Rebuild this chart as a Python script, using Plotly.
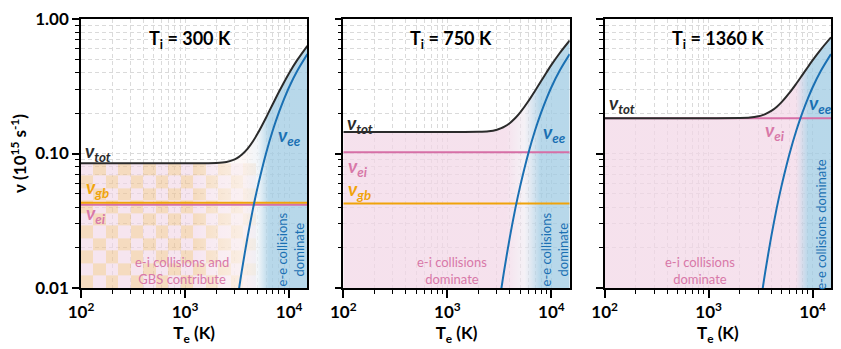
import numpy as np
import plotly.graph_objects as go
from plotly.subplots import make_subplots

# ---------------- data ----------------
TE = [100, 1000, 2000, 2500, 3000, 3300, 3500, 4000, 4500, 5000, 6000,
      7000, 8000, 9000, 10000, 12000, 15000]
NU_EE = [None, None, 0.00035, 0.0019, 0.0059, 0.0098, 0.0132, 0.0242, 0.0389,
         0.0567, 0.100, 0.150, 0.203, 0.257, 0.311, 0.412, 0.548]
NU_TOT_300 = [0.0845, 0.0845, 0.0849, 0.0864, 0.0904, 0.0943, 0.0977, 0.1087,
              0.1234, 0.1412, 0.1845, 0.2345, 0.2875, 0.3415, 0.3955, 0.4965, 0.6325]
NU_TOT_750 = [0.1445, 0.1445, 0.1449, 0.1464, 0.1504, 0.1543, 0.1577, 0.1687,
              0.1834, 0.2012, 0.2445, 0.2945, 0.3475, 0.4015, 0.4555, 0.5565, 0.6925]
NU_TOT_1360 = [0.183, 0.183, 0.1834, 0.1849, 0.1889, 0.1928, 0.1962, 0.2072,
               0.2219, 0.2397, 0.283, 0.333, 0.386, 0.440, 0.494, 0.595, 0.731]
TI = [300, 750, 1360]
NU_EI = [0.0415, 0.102, 0.183]
NU_GB = [0.043, 0.0425, None]
NU_TOT = [NU_TOT_300, NU_TOT_750, NU_TOT_1360]
TE_RANGE = [100, 15000]
X_TICKS = [100, 1000, 10000]
X_TICKTEXT = ["10<sup>2</sup>", "10<sup>3</sup>", "10<sup>4</sup>"]
Y_TICKS = [0.01, 0.1, 1.0]
Y_TICKTEXT = ["0.01", "0.10", "1.00"]

# ---------------- styles ----------------
FONT = "Lato"
C_TOT = "#2b2b2b"
C_EE = "#1a70b3"
C_EI = "#d66fa6"
C_GB = "#f0a30a"
C_EI_TXT = "#d878a8"
BLUE = "rgba(160,203,227,0.75)"
PINK = "rgba(242,214,230,0.72)"

fig = make_subplots(rows=1, cols=3)

L, R, T, B = 81, 8, 14, 61
W, H = 841, 349
PW = W - L - R
panels_px = [(81, 308), (344, 571), (606, 833)]
domains = [[(a - L) / PW, (b - L) / PW] for a, b in panels_px]

gradients = [
    [[0, "rgba(255,255,255,0)"], [0.5, "rgba(255,255,255,0)"],
     [0.72, "rgba(252,244,242,0.75)"], [0.78, "rgba(236,242,247,0.7)"],
     [0.83, BLUE], [1, BLUE]],
    [[0, PINK], [0.72, PINK], [0.8, "rgba(238,232,240,0.6)"],
     [0.87, BLUE], [1, BLUE]],
    [[0, PINK], [0.845, PINK], [0.9, BLUE], [1, BLUE]],
]

# checkerboard decoration for first panel (style only)
xe = np.linspace(2.0, 3.68, 15)
ye = np.linspace(-2.0, np.log10(NU_TOT_300[0]), 11)
zc = [[(i + j) % 2 for i in range(len(xe) - 1)] for j in range(len(ye) - 1)]
fig.add_trace(go.Heatmap(x=10 ** xe, y=10 ** ye, z=zc, showscale=False,
                         colorscale=[[0, "rgb(238,196,148)"], [1, "rgb(241,212,228)"]],
                         opacity=0.6, hoverinfo="skip"), row=1, col=1)

lo = 0.001
for k in range(3):
    c = k + 1
    tot = NU_TOT[k]
    fig.add_trace(go.Scatter(
        x=TE + [TE_RANGE[1], TE_RANGE[0]], y=tot + [lo, lo], mode="lines",
        line=dict(width=0), fill="toself",
        fillgradient=dict(type="horizontal", colorscale=gradients[k]),
        hoverinfo="skip", showlegend=False), row=1, col=c)
    fig.add_trace(go.Scatter(x=TE_RANGE, y=[NU_EI[k]] * 2, mode="lines",
                             line=dict(color=C_EI, width=2), showlegend=False), row=1, col=c)
    if NU_GB[k] is not None:
        fig.add_trace(go.Scatter(x=TE_RANGE, y=[NU_GB[k]] * 2, mode="lines",
                                 line=dict(color=C_GB, width=2), showlegend=False), row=1, col=c)
    fig.add_trace(go.Scatter(x=TE, y=NU_EE, mode="lines",
                             line=dict(color=C_EE, width=2, shape="spline", smoothing=0.8),
                             showlegend=False), row=1, col=c)
    fig.add_trace(go.Scatter(x=TE, y=tot, mode="lines",
                             line=dict(color=C_TOT, width=2, shape="spline", smoothing=0.8),
                             showlegend=False), row=1, col=c)

minor_x = [m * 10 ** e for e in (2, 3) for m in range(2, 10)] + [20000]
minor_y = [m * 10 ** e for e in (-2, -1) for m in range(2, 10)]
tickfont = dict(family=FONT, size=17, color="black", weight="bold")
GRID = "#dadada"
DASH = "4px,3px"

for k in range(3):
    xs = "xaxis" if k == 0 else f"xaxis{k+1}"
    ys = "yaxis" if k == 0 else f"yaxis{k+1}"
    fig.layout[xs].update(
        type="log", range=[np.log10(TE_RANGE[0]), np.log10(TE_RANGE[1])],
        domain=domains[k], showline=True, linecolor="black", linewidth=1.5,
        mirror=True, ticks="outside", ticklen=8, tickwidth=1.5, tickcolor="black",
        tickvals=X_TICKS, ticktext=X_TICKTEXT, tickfont=tickfont,
        showgrid=True, gridcolor=GRID, griddash=DASH, gridwidth=1, zeroline=False,
        minor=dict(tickvals=minor_x, ticks="outside", ticklen=4, tickwidth=1.2,
                   tickcolor="black", showgrid=True, gridcolor=GRID, griddash=DASH),
        title=dict(text="<b>T<sub>e</sub> (K)</b>", font=dict(family=FONT, size=17, color="black"),
                   standoff=2))
    fig.layout[ys].update(
        type="log", range=[-2, 0], domain=[0, 1], showline=True, linecolor="black",
        linewidth=1.5, mirror=True, ticks="outside", ticklen=7, tickwidth=1.5,
        tickcolor="black", tickvals=Y_TICKS, ticktext=Y_TICKTEXT if k == 0 else ["", "", ""],
        tickfont=tickfont, showgrid=True, gridcolor=GRID, griddash=DASH, gridwidth=1,
        zeroline=False,
        minor=dict(tickvals=minor_y, ticks="outside", ticklen=4, tickwidth=1.2,
                   tickcolor="black", showgrid=True, gridcolor=GRID, griddash=DASH))

fig.layout.yaxis.title = dict(text="<b>ν (10<sup>15</sup> s<sup>-1</sup>)</b>",
                              font=dict(family=FONT, size=17, color="black"), standoff=4)

def nu(sym, sub, color, x, y, ref, size=19):
    fig.add_annotation(text=f"<b><i>ν</i></b><sub><b><i>{sub}</i></b></sub>",
                       x=x, y=y, xref=f"x{ref}", yref=f"y{ref}", showarrow=False,
                       xanchor="left", yanchor="middle",
                       font=dict(family=FONT, size=size, color=color))

def txt(text, x, y, ref, color, size=13, angle=0):
    fig.add_annotation(text=text, x=x, y=y, xref=f"x{ref}", yref=f"y{ref}",
                       showarrow=False, textangle=angle,
                       font=dict(family=FONT, size=size, color=color))

for k, (xc, ref) in enumerate([(3.045, ""), (3.035, "2"), (3.093, "3")]):
    txt(f"<b>T<sub>i</sub> = {TI[k]} K</b>", xc, -0.15, ref, "black", size=18)

# panel 1
nu("ν", "tot", C_TOT, 2.02, -0.99, "")
nu("ν", "gb", C_GB, 2.03, -1.26, "")
nu("ν", "ei", C_EI_TXT, 2.03, -1.45, "")
nu("ν", "ee", C_EE, 3.87, -0.87, "")
txt("e-i collisions and<br>GBS contribute", 2.968, -1.87, "", C_EI_TXT)
txt("e-e collisions<br>dominate", 4.013, -1.71, "", C_EE, angle=-90)
# panel 2
nu("ν", "tot", C_TOT, 2.02, -0.78, "2")
nu("ν", "ei", C_EI_TXT, 2.03, -1.10, "2")
nu("ν", "gb", C_GB, 2.03, -1.27, "2")
nu("ν", "ee", C_EE, 3.90, -0.85, "2")
txt("e-i collisions<br>dominate", 3.045, -1.87, "2", C_EI_TXT)
txt("e-e collisions<br>dominate", 4.033, -1.715, "2", C_EE, angle=-90)
# panel 3
nu("ν", "tot", C_TOT, 2.02, -0.63, "3")
nu("ν", "ei", C_EI_TXT, 3.52, -0.83, "3")
nu("ν", "ee", C_EE, 3.945, -0.63, "3")
txt("e-i collisions<br>dominate", 2.92, -1.87, "3", C_EI_TXT)
txt("e-e collisions dominate", 4.08, -1.53, "3", C_EE, angle=-90)

fig.update_layout(width=W, height=H, margin=dict(l=L, r=R, t=T, b=B),
                  plot_bgcolor="white", paper_bgcolor="white", showlegend=False,
                  font=dict(family=FONT))
fig.write_html("out.html")
